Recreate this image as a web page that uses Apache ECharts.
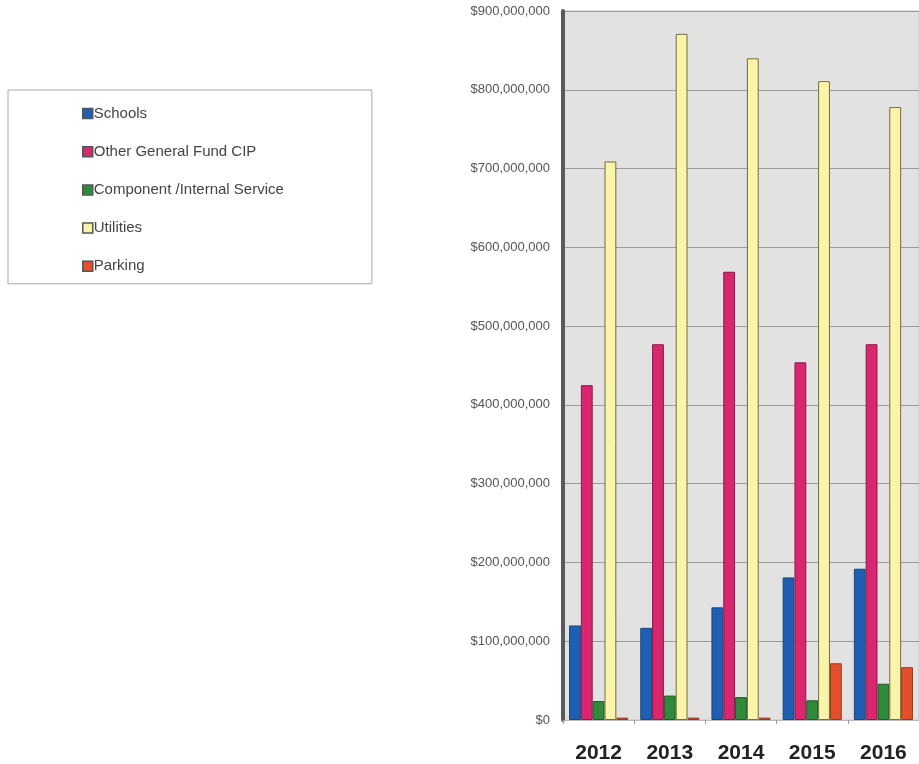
<!DOCTYPE html>
<html>
<head>
<meta charset="utf-8">
<script src="https://cdn.jsdelivr.net/npm/echarts@6/dist/echarts.min.js"></script>
<style>html,body{margin:0;padding:0;background:#fff}#c{width:919px;height:764px}</style>
</head>
<body>
<div id="c"></div>
<script>
const years = ['2012', '2013', '2014', '2015', '2016'];
const schools = [120000000, 117000000, 143000000, 181000000, 192000000];
const otherGeneralFund = [425000000, 477000000, 569000000, 454000000, 477000000];
const componentInternal = [24000000, 31000000, 29000000, 25000000, 46000000];
const utilities = [709000000, 871000000, 840000000, 811000000, 778000000];
const parking = [3000000, 3000000, 3000000, 72000000, 67000000];
const seriesNames = ['Schools', 'Other General Fund CIP', 'Component /Internal Service', 'Utilities', 'Parking'];
const seriesData = [schools, otherGeneralFund, componentInternal, utilities, parking];
const colors = ['#1f5fb3', '#d8266f', '#2f8a3c', '#f8f4aa', '#e2512c'];
const borders = ['#17467f', '#8e1747', '#1e5a27', '#7d6a3a', '#99361c'];

const chart = echarts.init(document.getElementById('c'));
const fmt = v => '$' + v.toString().replace(/\B(?=(\d{3})+(?!\d))/g, ',');
chart.setOption({
  animation: false,
  legend: {
    orient: 'vertical',
    left: 8, top: 90,
    padding: [16, 88, 10, 74],
    itemGap: 23.2,
    itemWidth: 10, itemHeight: 10,
    borderColor: '#aaa', borderWidth: 1,
    icon: 'rect',
    textStyle: { fontFamily: 'Liberation Sans, Arial', fontSize: 15, color: '#444', padding: [0, 0, 0, -4] },
    itemStyle: { borderColor: '#555', borderWidth: 1.5 },
    data: seriesNames
  },
  grid: {
    left: 563, right: 0, top: 11, bottom: 44,
    show: true, backgroundColor: '#e2e2e2', borderColor: '#c8c8c8', borderWidth: 1
  },
  xAxis: {
    type: 'category',
    data: years,
    axisLine: { show: true, lineStyle: { color: '#bbb', width: 1 } },
    axisTick: { show: true, length: 4, lineStyle: { color: '#999' } },
    axisLabel: { fontFamily: 'Liberation Sans, Arial', fontSize: 21, fontWeight: 'bold', color: '#222', margin: 23 }
  },
  yAxis: {
    type: 'value',
    min: 0, max: 900000000, interval: 100000000,
    axisLine: { show: true, lineStyle: { color: '#5a5a5a', width: 4 } },
    axisTick: { show: false },
    splitLine: { lineStyle: { color: '#9a9a9a', width: 1 } },
    axisLabel: { fontFamily: 'Liberation Sans, Arial', fontSize: 13, color: '#555', margin: 13, formatter: fmt }
  },
  series: seriesNames.map((n, i) => ({
    name: n,
    type: 'bar',
    data: seriesData[i],
    barGap: '0%',
    barCategoryGap: '17%',
    itemStyle: { color: colors[i], borderColor: borders[i], borderWidth: 1 }
  }))
});
</script>
</body>
</html>
